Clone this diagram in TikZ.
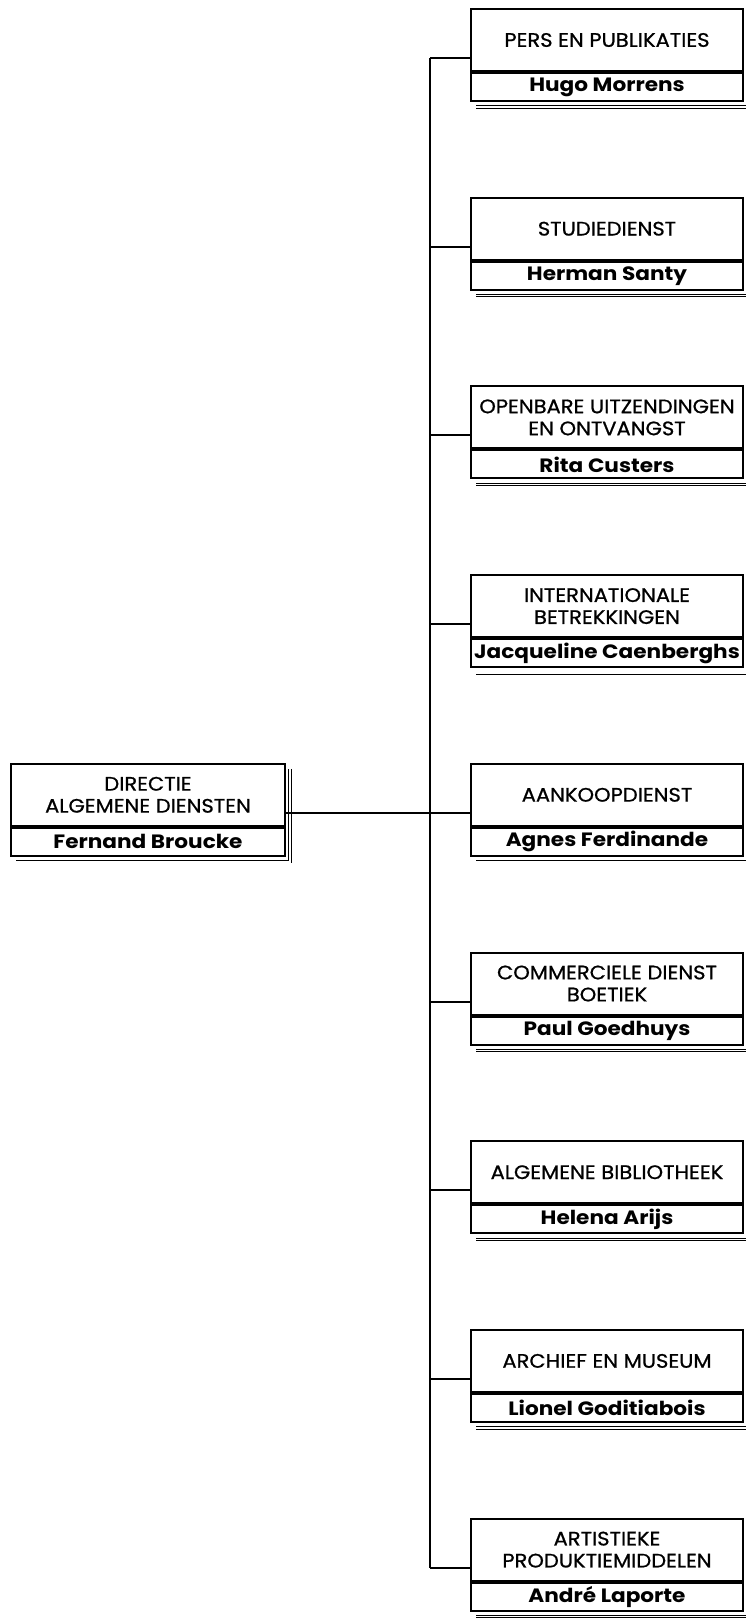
\documentclass[tikz,border=0pt]{standalone}
\usepackage{fontspec}
\setmainfont{Poppins}
\newfontfamily\upfont[FakeStretch=1.08,FakeBold=0.8]{Poppins}
\newfontfamily\namefont[FakeStretch=1.12]{Poppins Bold}
\usetikzlibrary{calc,backgrounds}
\tikzset{
  upbox/.style={draw, line width=2pt, fill=white, minimum width=272pt, minimum height=62pt,
    inner sep=0pt, align=center, font=\upfont\fontsize{19.5}{22}\selectfont, anchor=north west},
  lowbox/.style={draw, line width=2pt, fill=white, minimum width=272pt, minimum height=28pt,
    inner sep=0pt, align=center, font=\namefont\fontsize{19.3}{20}\selectfont, anchor=north},
  shadowbox/.style={draw, line width=0.9pt, double, double distance=1.4pt},
  link/.style={line width=2pt}
}
\begin{document}
\begin{tikzpicture}[x=1pt,y=-1pt]
\useasboundingbox (0,0) rectangle (745,1620);
% root box
\node[upbox, minimum width=274pt] (root) at (10,{8+188.7*4}) {DIRECTIE\\ALGEMENE DIENSTEN};
\node[lowbox, minimum width=274pt] (rootn) at (root.south) {Fernand Broucke};
\begin{scope}[on background layer]
  \draw[shadowbox] ($(root.north east)+(4,6)$) -- ($(rootn.south east)+(4,5)$) -- ($(rootn.south west)+(6,5)$);
\end{scope}
\coordinate (rc) at ($(root.north east)+(0,50)$);
% department boxes
\foreach \i/\t/\n in {
  0/{PERS EN PUBLIKATIES}/{Hugo Morrens},
  1/{STUDIEDIENST}/{Herman Santy},
  2/{OPENBARE UITZENDINGEN\\EN ONTVANGST}/{Rita Custers},
  3/{INTERNATIONALE\\BETREKKINGEN}/{Jacqueline Caenberghs},
  4/{AANKOOPDIENST}/{Agnes Ferdinande},
  5/{COMMERCIELE DIENST\\BOETIEK}/{Paul Goedhuys},
  6/{ALGEMENE BIBLIOTHEEK}/{Helena Arijs},
  7/{ARCHIEF EN MUSEUM}/{Lionel Goditiabois},
  8/{ARTISTIEKE\\PRODUKTIEMIDDELEN}/{André Laporte}}{
  \node[upbox] (b\i) at (470,{8+188.7*\i}) {\t};
  \node[lowbox] (n\i) at (b\i.south) {\n};
  \begin{scope}[on background layer]
    \draw[shadowbox] ($(b\i.north east)+(4,6)$) -- ($(n\i.south east)+(4,5)$) -- ($(n\i.south west)+(6,5)$);
  \end{scope}
  \coordinate (c\i) at ($(b\i.north west)+(0,50)$);
  \coordinate (k\i) at (c\i -| 430,0);
  \draw[link] (c\i) -- (k\i);
}
\draw[link] (k0) -- (k8);
\draw[link] (rc) -- (k4);
\end{tikzpicture}
\end{document}
